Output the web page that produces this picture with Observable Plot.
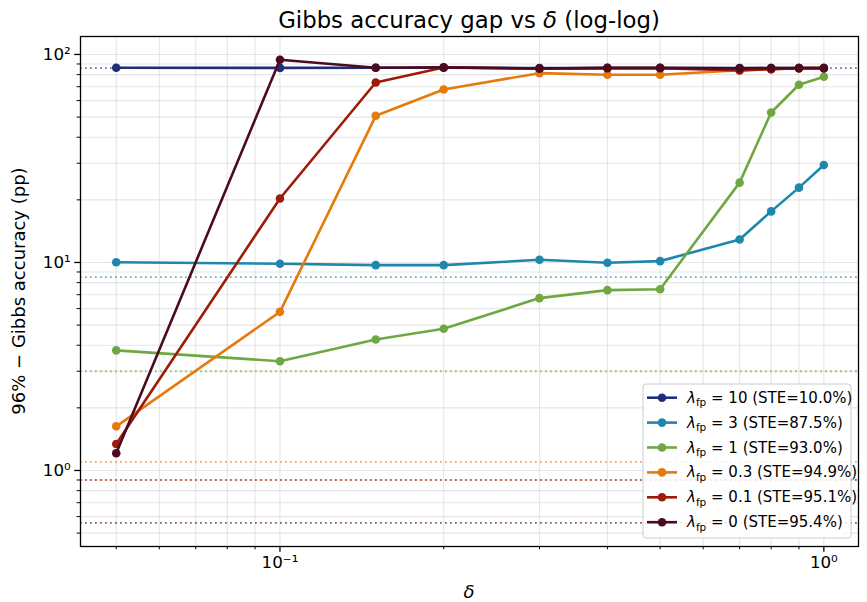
<!DOCTYPE html>
<html><head><meta charset="utf-8">
<script src="https://cdn.jsdelivr.net/npm/d3@7"></script>
<script src="https://cdn.jsdelivr.net/npm/@observablehq/plot@0.6"></script>
<style>body{margin:0;background:#fff;} #chart svg{font-family:"DejaVu Sans",sans-serif;}</style>
</head><body><div id="chart"></div>
<script>
// ---- data ----
const delta = [0.05, 0.1, 0.15, 0.2, 0.3, 0.4, 0.5, 0.7, 0.8, 0.9, 1.0];
const seriesNames = ["10", "3", "1", "0.3", "0.1", "0"];
const steValues = ["10.0", "87.5", "93.0", "94.9", "95.1", "95.4"];
const refGap = [86.0, 8.5, 3.0, 1.1, 0.9, 0.56];
const lam10 = [86.3, 86.2, 86.3, 86.3, 86.0, 86.0, 86.0, 86.0, 86.0, 86.0, 86.0];
const lam3  = [10.03, 9.86, 9.71, 9.71, 10.3, 9.97, 10.15, 12.9, 17.6, 22.9, 29.4];
const lam1  = [3.78, 3.35, 4.26, 4.80, 6.74, 7.36, 7.44, 24.2, 52.6, 71.5, 78.2];
const lam03 = [1.63, 5.79, 50.7, 67.9, 81.3, 79.9, 79.9, 84.0, 85.0, 86.0, 86.0];
const lam01 = [1.34, 20.3, 73.3, 86.5, 85.5, 86.0, 86.0, 83.8, 85.0, 86.0, 86.0];
const lam0  = [1.21, 94.3, 86.3, 86.7, 85.6, 86.2, 86.2, 85.7, 86.0, 86.0, 86.0];
const colors = ["#1f2d7b", "#1f86ae", "#6fa843", "#e67a0c", "#9e1b08", "#4b0a1f"];
const xMajor = [0.1, 1];
const xMajorLabels = ["10⁻¹", "10⁰"];
const xMinor = [0.05, 0.06, 0.07, 0.08, 0.09, 0.2, 0.3, 0.4, 0.5, 0.6, 0.7, 0.8, 0.9];
const yMajor = [1, 10, 100];
const yMajorLabels = ["10⁰", "10¹", "10²"];
const yMinor = [0.5, 0.6, 0.7, 0.8, 0.9, 2, 3, 4, 5, 6, 7, 8, 9, 20, 30, 40, 50, 60, 70, 80, 90];
const xDomain = [0.04298, 1.158];
const yDomain = [0.431, 122];

// ---- build ----
const seriesValues = [lam10, lam3, lam1, lam03, lam01, lam0];
const rows = seriesNames.flatMap((s, i) => delta.map((d, j) => ({series: s, delta: d, gap: seriesValues[i][j]})));
const refs = seriesNames.map((s, i) => ({series: s, gap: refGap[i]}));

const W = 867, H = 602, mL = 80, mR = 9, mT = 36, mB = 56;
const gridStyle = {stroke: "#b0b0b0", strokeOpacity: 0.32, strokeWidth: 1.1};

const seriesMarks = seriesNames.flatMap(s => {
  const d = rows.filter(r => r.series === s);
  return [
    Plot.line(d, {x: "delta", y: "gap", stroke: "series", strokeWidth: 2.6}),
    Plot.dot(d, {x: "delta", y: "gap", fill: "series", r: 4.3})
  ];
});

const svg = Plot.plot({
  width: W, height: H,
  marginLeft: mL, marginRight: mR, marginTop: mT, marginBottom: mB,
  x: {type: "log", domain: xDomain},
  y: {type: "log", domain: yDomain},
  color: {domain: seriesNames, range: colors},
  style: {fontFamily: "DejaVu Sans", fontSize: "16.7px", background: "white", color: "black"},
  marks: [
    Plot.gridX({ticks: xMajor.concat(xMinor), ...gridStyle}),
    Plot.gridY({ticks: yMajor.concat(yMinor), ...gridStyle}),
    Plot.ruleY(refs, {y: "gap", stroke: "series", strokeWidth: 1.8, strokeDasharray: "1.8,3.2", strokeOpacity: 0.65}),
    ...seriesMarks,
    Plot.axisX({ticks: xMajor, tickSize: 5.8, tickPadding: 4, strokeWidth: 1.3, fontSize: 16.7,
      tickFormat: d => xMajorLabels[xMajor.indexOf(d)], label: null}),
    Plot.axisX({ticks: xMinor, tickSize: 3.3, strokeWidth: 1, tickFormat: () => "", label: null}),
    Plot.axisY({ticks: yMajor, tickSize: 5.8, tickPadding: 4, strokeWidth: 1.3, fontSize: 16.7,
      tickFormat: d => yMajorLabels[yMajor.indexOf(d)], label: null}),
    Plot.axisY({ticks: yMinor, tickSize: 3.3, strokeWidth: 1, tickFormat: () => "", label: null}),
    Plot.frame({stroke: "black", strokeWidth: 1.3})
  ]
});
document.getElementById("chart").appendChild(svg);

const root = d3.select(svg);
const cx = (mL + (W - mR)) / 2;
// title
const t = root.append("text").attr("x", cx).attr("y", 28).attr("text-anchor", "middle")
  .style("font-size", "22.8px").style("fill", "black");
t.append("tspan").text("Gibbs accuracy gap vs ");
t.append("tspan").style("font-style", "italic").text("δ");
t.append("tspan").text(" (log-log)");
// x label
root.append("text").attr("x", cx).attr("y", 592).attr("dy", "0.35em").attr("text-anchor", "middle")
  .style("font-size", "18px").style("font-style", "italic").style("fill", "black").text("δ");
// y label
root.append("text").attr("transform", `translate(19,${(mT + H - mB) / 2}) rotate(-90)`)
  .attr("dy", "0.35em").attr("text-anchor", "middle").style("font-size", "18px").style("fill", "black")
  .text("96% − Gibbs accuracy (pp)");

// legend
const lgRight = W - mR - 7, lgBottom = H - mB - 8;
const lgW = 208, lgH = 154;
const lg = root.append("g").attr("transform", `translate(${lgRight - lgW},${lgBottom - lgH})`);
lg.append("rect").attr("x", 0).attr("y", 0).attr("width", lgW).attr("height", lgH).attr("rx", 3).attr("ry", 3)
  .style("fill", "#ffffff").style("fill-opacity", 0.85).style("stroke", "#cccccc").style("stroke-width", "1px");
seriesNames.forEach((s, i) => {
  const y = 13.7 + 24.9 * i;
  lg.append("line").attr("x1", 4).attr("x2", 34).attr("y1", y).attr("y2", y)
    .style("stroke", colors[i]).style("stroke-width", "2.6px");
  lg.append("circle").attr("cx", 19).attr("cy", y).attr("r", 4.3).style("fill", colors[i]);
  const tx = lg.append("text").attr("x", 44).attr("y", y + 5).attr("text-anchor", "start")
    .style("font-size", "15px").style("fill", "black");
  tx.append("tspan").style("font-style", "italic").text("λ");
  tx.append("tspan").style("font-size", "10.5px").attr("dy", 3.5).text("fp");
  tx.append("tspan").attr("dy", -3.5).text(` = ${s} (STE=${steValues[i]}%)`);
});
</script>
</body></html>
